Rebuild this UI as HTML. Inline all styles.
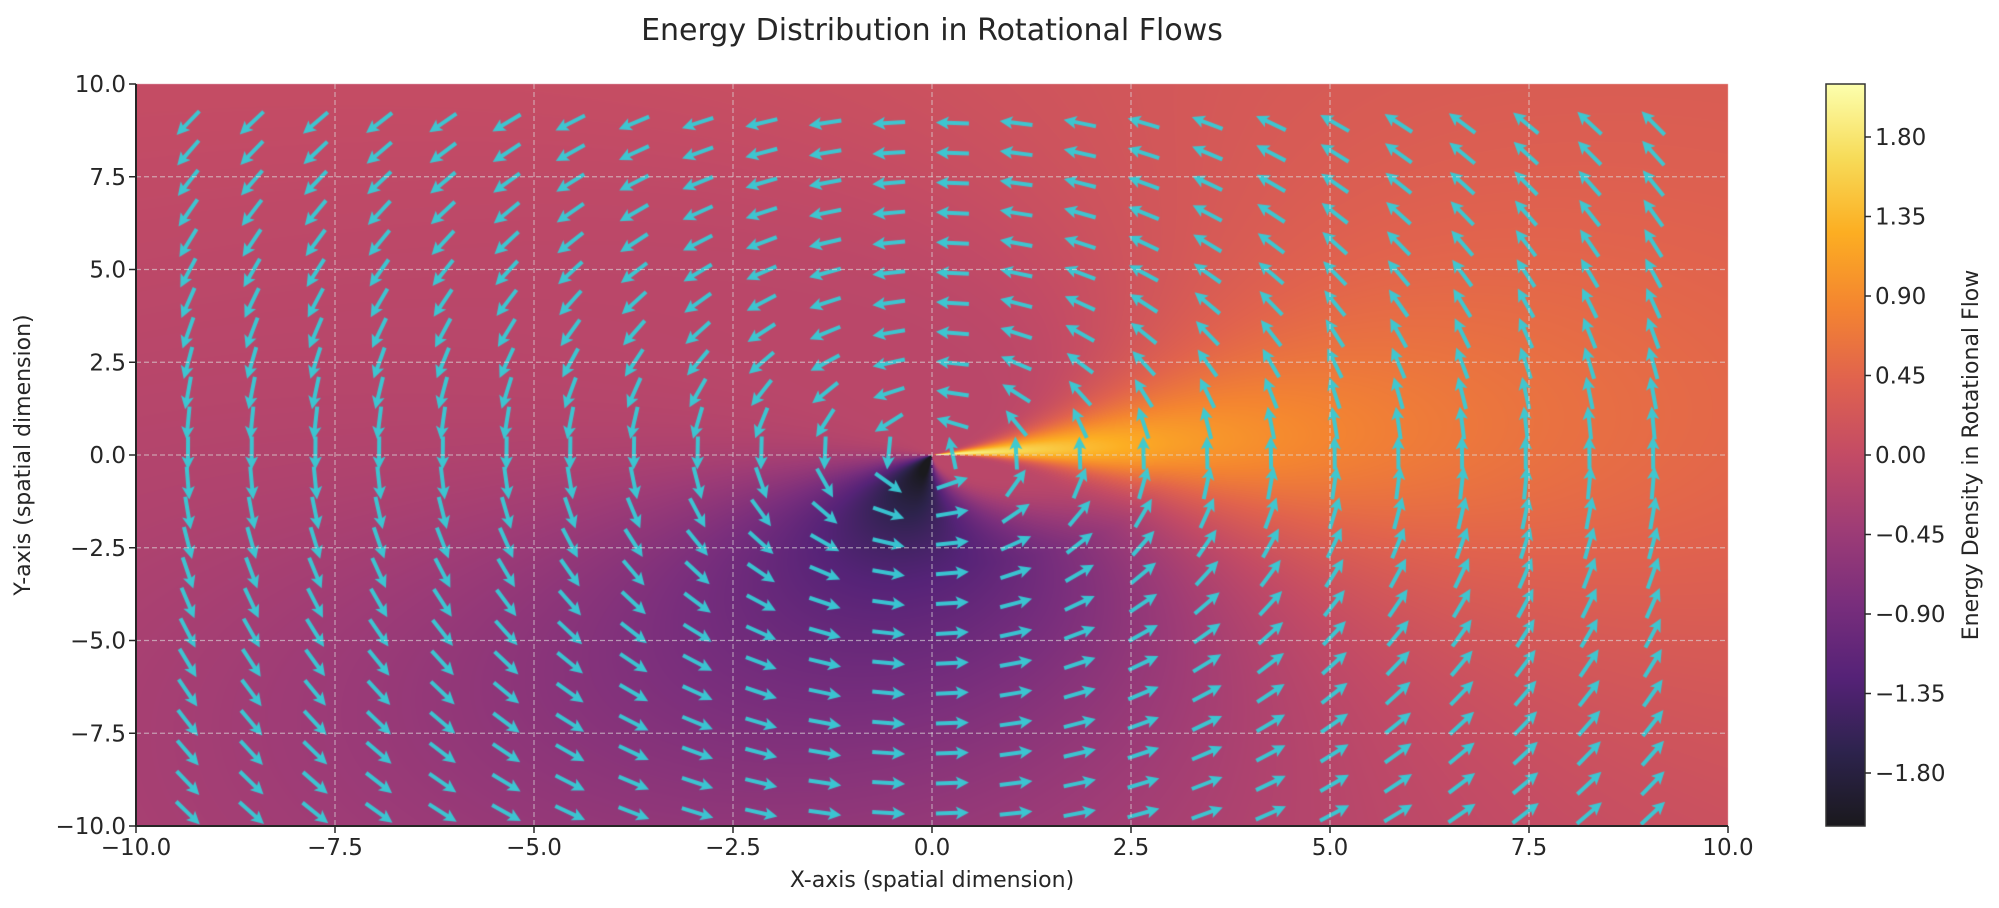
<!DOCTYPE html>
<html><head><meta charset="utf-8"><style>
html,body{margin:0;padding:0;background:#fff;}
#wrap{position:relative;width:1999px;height:908px;overflow:hidden;font-family:"DejaVu Sans","Liberation Sans",sans-serif;}
canvas{position:absolute;left:0;top:0;}
svg{position:absolute;left:0;top:0;}
</style></head><body><div id="wrap">
<canvas id="c" width="1999" height="908"></canvas>
<svg width="1999" height="908" xmlns="http://www.w3.org/2000/svg" font-family="DejaVu Sans, Liberation Sans, sans-serif" fill="#262626">
<defs>
<linearGradient id="cb" x1="0" y1="1" x2="0" y2="0">
<stop offset="0" stop-color="rgb(26,25,29)"/>
<stop offset="0.1" stop-color="rgb(45,35,77)"/>
<stop offset="0.2" stop-color="rgb(85,34,119)"/>
<stop offset="0.3" stop-color="rgb(121,46,124)"/>
<stop offset="0.4" stop-color="rgb(158,60,118)"/>
<stop offset="0.5" stop-color="rgb(195,75,101)"/>
<stop offset="0.6" stop-color="rgb(224,98,78)"/>
<stop offset="0.7" stop-color="rgb(244,133,48)"/>
<stop offset="0.8" stop-color="rgb(252,174,34)"/>
<stop offset="0.9" stop-color="rgb(247,219,88)"/>
<stop offset="1" stop-color="rgb(252,255,173)"/>
</linearGradient>
</defs>
<text x="932" y="40" font-size="30" text-anchor="middle">Energy Distribution in Rotational Flows</text>
<g id="grid" stroke="#dddddd" stroke-opacity="0.6" stroke-width="1.2" stroke-dasharray="5,3"></g>
<line x1="136" y1="84" x2="136" y2="827" stroke="#262626" stroke-width="2"/>
<line x1="135" y1="826" x2="1728" y2="826" stroke="#262626" stroke-width="2"/>
<g id="ticks" font-size="23"></g>
<text x="932" y="887" font-size="22" text-anchor="middle">X-axis (spatial dimension)</text>
<text transform="translate(30,455) rotate(-90)" font-size="22" text-anchor="middle">Y-axis (spatial dimension)</text>
<rect x="1826" y="84" width="39" height="742" fill="url(#cb)" stroke="#333" stroke-width="1.5"/>
<g id="cbt" font-size="23"></g>
<text transform="translate(1978,455) rotate(-90)" font-size="22" text-anchor="middle">Energy Density in Rotational Flow</text>
</svg>
</div>
<script>
(function(){
var NS="http://www.w3.org/2000/svg";
function el(p,t,a,txt){var e=document.createElementNS(NS,t);for(var k in a)e.setAttribute(k,a[k]);if(txt!==undefined)e.textContent=txt;p.appendChild(e);return e;}
var g=document.getElementById('grid'),tk=document.getElementById('ticks'),cbt=document.getElementById('cbt');
function fmt(v){var s=v.toFixed(1);return v<0?'\u2212'+s.slice(1):s;}
for(var i=0;i<=8;i++){var v=-10+2.5*i;var x=136+i*199;var y=826-i*92.75;
 if(i>0&&i<8){el(g,'line',{x1:x,y1:84,x2:x,y2:826});el(g,'line',{x1:136,y1:y,x2:1728,y2:y});}
 el(tk,'line',{x1:x,y1:826,x2:x,y2:833,stroke:'#262626','stroke-width':1.5});
 el(tk,'line',{x1:129,y1:y,x2:136,y2:y,stroke:'#262626','stroke-width':1.5});
 el(tk,'text',{x:x,y:855,'text-anchor':'middle'},fmt(v));
 el(tk,'text',{x:126,y:y+8,'text-anchor':'end'},fmt(v));
}
for(var j=-4;j<=4;j++){var v=j*0.45;var y=455-v/2.1*371;
 el(cbt,'line',{x1:1865,y1:y,x2:1871,y2:y,stroke:'#262626','stroke-width':1.5});
 var s=Math.abs(v).toFixed(2);el(cbt,'text',{x:1875,y:y+8},(v<-0.001?'\u2212':'')+s);}
var cv=document.getElementById('c'),ctx=cv.getContext('2d');
var X0=136,Y0=84,W=1592,H=742;
var st=[[0,0,4],[22,11,57],[66,10,104],[106,23,110],[147,38,103],[188,55,84],[221,81,58],[243,120,25],[252,165,10],[246,215,70],[252,255,164]];
function cmap(t){if(t<0)t=0;if(t>1)t=1;var f=t*10,i=Math.min(9,Math.floor(f)),u=f-i;var a=st[i],b=st[i+1];
 return [(a[0]+(b[0]-a[0])*u)*0.9+25.5,(a[1]+(b[1]-a[1])*u)*0.9+25.5,(a[2]+(b[2]-a[2])*u)*0.9+25.5];}
function wrap(d){while(d>Math.PI)d-=2*Math.PI;while(d<-Math.PI)d+=2*Math.PI;return d;}
function E(x,y){var r=Math.sqrt(x*x+y*y)+1e-6,th=Math.atan2(y,x);
 var A=2.3/(1+0.28*r);
 var dp=th-0.1;var sp=dp>=0?(0.14+0.09*r):(0.04+0.1*r);
 var P=A*Math.exp(-dp*dp/(2*sp*sp));
 var dn=wrap(th+1.75);var sn=dn>0?Math.min(0.7,0.1+0.2*r):0.7;
 var N=A*Math.exp(-dn*dn/(2*sn*sn));
 return P-N-0.1;}
var img=ctx.createImageData(W,H),d=img.data;
for(var py=0;py<H;py++){var y=10-20*(py+0.5)/H;for(var px=0;px<W;px++){var x=-10+20*(px+0.5)/W;
 var v=E(x,y);var c=cmap((v+2.1)/4.2);var k=(py*W+px)*4;d[k]=c[0];d[k+1]=c[1];d[k+2]=c[2];d[k+3]=255;}}
ctx.putImageData(img,X0,Y0);
ctx.save();ctx.beginPath();ctx.rect(X0,Y0,W,H);ctx.clip();
ctx.fillStyle='rgba(56,202,212,0.96)';
var L=33;
for(var ci=0;ci<24;ci++){for(var ri=0;ri<25;ri++){
 var cx=188+63.7*ci,cy=123+30*ri;
 var x=(cx-136)/79.6-10,y=10-(cy-84)/37.1;
 var u=-y,w=x;var m=Math.sqrt(u*u+w*w)||1;u/=m;w/=m;
 var ang=Math.atan2(-w,u);
 ctx.save();ctx.translate(cx,cy);ctx.rotate(ang);
 ctx.beginPath();
 ctx.moveTo(-L/2,-2);ctx.lineTo(L/2-11,-2);ctx.lineTo(L/2-13,-6.5);ctx.lineTo(L/2,0);ctx.lineTo(L/2-13,6.5);ctx.lineTo(L/2-11,2);ctx.lineTo(-L/2,2);ctx.closePath();ctx.fill();
 ctx.restore();}}
ctx.restore();
})();
</script>
</body></html>
